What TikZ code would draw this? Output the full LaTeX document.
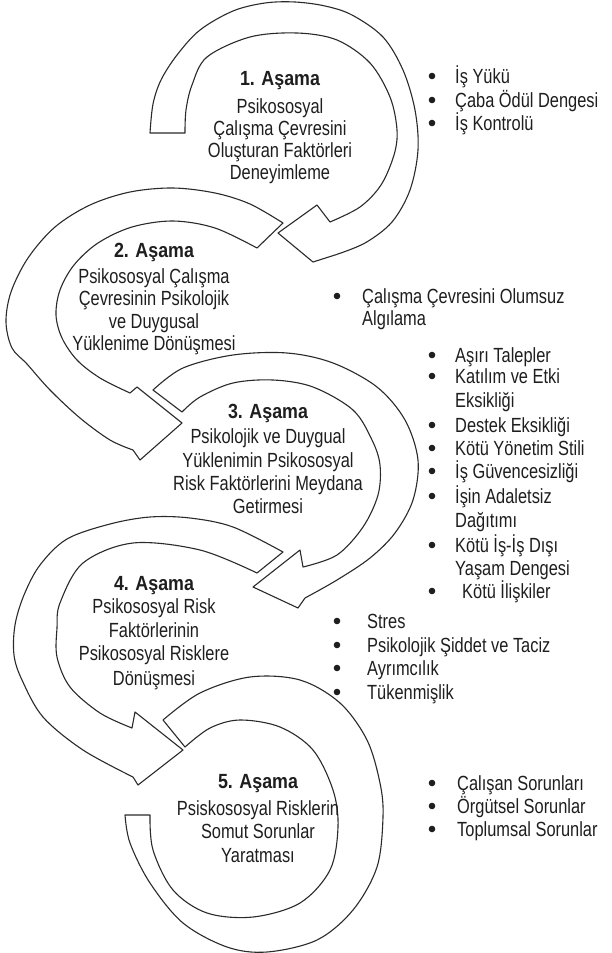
\documentclass[tikz,border=0pt]{standalone}
\usepackage{fontspec}
\setmainfont{Liberation Sans}[FakeStretch=0.80, BoldFeatures={FakeStretch=0.87}]
\definecolor{ink}{HTML}{1E1E1E}
\definecolor{edge}{HTML}{2A2A2A}
\tikzset{
  ring/.style={draw=edge, line width=1.1pt, fill=white, line join=round},
  sm/.style={smooth, tension=0.55},
  txt/.style={inner sep=0pt, anchor=base, text=ink, font=\fontsize{20.5}{22}\selectfont},
  hd/.style={txt, font=\fontsize{20.5}{22}\selectfont\bfseries},
  itm/.style={inner sep=0pt, anchor=base west, text=ink, font=\fontsize{20.5}{22}\selectfont},
  dot/.style={circle, fill=ink, inner sep=0pt, minimum size=6.6pt}
}
\begin{document}
\begin{tikzpicture}[x=1pt, y=-1pt]
\useasboundingbox (0,0) rectangle (612,953);

% ---- Ring 1
\draw[ring] plot[sm] coordinates {(150,133) (153,104) (161,80) (177,55) (200,30) (233,11) (265,3) (295,2) (325,6) (352,15) (383,37) (403,70) (415,110) (418,150) (410,190) (392,222) (365,243) (335,255)}
 -- (313,262) -- (278,233) -- (317,205)
 -- plot[sm] coordinates {(330,222) (360,207) (381,185) (394,155) (397,130) (390,97) (370,63) (337,40) (297,33) (250,37) (207,57) (192,85) (186,110) (185,133)} -- cycle;

% ---- Ring 2
\draw[ring] plot[sm] coordinates {(283,223) (250,204) (215,193) (173,188) (130,192) (90,205) (55,227) (28,258) (11,292) (6,322) (12,348) (27,364) (50,390) (80,418) (110,440) (133,450)}
 -- (140,460) -- (182,423) -- (137,387)
 -- plot[sm] coordinates {(130,393) (100,378) (77,360) (62,338) (56,315) (60,290) (74,265) (98,243) (132,227) (173,221) (215,228) (257,248)} -- cycle;

% ---- Ring 3
\draw[ring] plot[sm] coordinates {(153,390) (183,368) (233,355) (287,353) (333,363) (377,387) (405,420) (418,460) (413,500) (395,533) (370,558) (337,580) (305,598)}
 -- (298,608) -- (253,587) -- (300,550)
 -- plot[sm] coordinates {(303,567) (337,555) (363,527) (378,495) (380,465) (372,440) (353,410) (313,387) (273,380) (233,383) (200,397) (182,412)} -- cycle;

% ---- Ring 4
\draw[ring] plot[sm] coordinates {(283,552) (233,527) (190,518) (150,517) (110,524) (67,539) (40,565) (24,595) (15,625) (14,655) (22,680) (43,717) (83,750) (133,777)}
 -- (138,785) -- (183,750) -- (135,712)
 -- plot[sm] coordinates {(132,728) (100,713) (70,687) (57,657) (57,628) (60,603) (83,563) (133,543) (200,550) (257,573)} -- cycle;

% ---- Ring 5
\draw[ring] plot[sm] coordinates {(163,720) (200,693) (250,677) (300,680) (340,703) (367,740) (380,783) (383,817) (377,867) (353,910) (317,940) (267,952) (227,947) (183,923) (150,883) (130,843) (125,815)}
 -- plot[sm] coordinates {(150,815) (153,850) (173,890) (207,913) (253,917) (300,903) (330,870) (338,827) (333,790) (313,750) (280,727) (240,720) (210,728) (185,747)} -- cycle;

% ---- Stage texts
\node[hd]  (s1h) at (280,85)  {1. Aşama};
\node[txt] (s1a) at (280,113) {Psikososyal};
\node[txt] (s1b) at (280,135) {Çalışma Çevresini};
\node[txt] (s1c) at (280,157) {Oluşturan Faktörleri};
\node[txt] (s1d) at (280,179) {Deneyimleme};

\node[hd]  (s2h) at (154,257) {2. Aşama};
\node[txt] (s2a) at (154,283) {Psikososyal Çalışma};
\node[txt] (s2b) at (154,305) {Çevresinin Psikolojik};
\node[txt] (s2c) at (154,328) {ve Duygusal};
\node[txt] (s2d) at (154,350) {Yüklenime Dönüşmesi};

\node[hd]  (s3h) at (268,418) {3. Aşama};
\node[txt] (s3a) at (268,443) {Psikolojik ve Duygual};
\node[txt] (s3b) at (268,467) {Yüklenimin Psikososyal};
\node[txt] (s3c) at (268,490) {Risk Faktörlerini Meydana};
\node[txt] (s3d) at (268,513) {Getirmesi};

\node[hd]  (s4h) at (154,590) {4. Aşama};
\node[txt] (s4a) at (154,613) {Psikososyal Risk};
\node[txt] (s4b) at (154,637) {Faktörlerinin};
\node[txt] (s4c) at (154,660) {Psikososyal Risklere};
\node[txt] (s4d) at (154,685) {Dönüşmesi};

\node[hd]  (s5h) at (258,788) {5. Aşama};
\node[txt] (s5a) at (258,815) {Psiskososyal Risklerin};
\node[txt] (s5b) at (258,838) {Somut Sorunlar};
\node[txt] (s5c) at (258,862) {Yaratması};

% ---- Bullet lists
\node[dot] (d1a) at (432,76) {};  \node[itm] (l1a) at (455,83)  {İş Yükü};
\node[dot] (d1b) at (432,100) {}; \node[itm] (l1b) at (455,107) {Çaba Ödül Dengesi};
\node[dot] (d1c) at (432,123) {}; \node[itm] (l1c) at (455,130) {İş Kontrolü};

\node[dot] (d2a) at (337,296) {}; \node[itm] (l2a) at (362,303) {Çalışma Çevresini Olumsuz};
\node[itm] (l2b) at (362,325) {Algılama};

\node[dot] (d3a) at (432,355) {}; \node[itm] (l3a) at (455,362) {Aşırı Talepler};
\node[dot] (d3b) at (432,376) {}; \node[itm] (l3b) at (455,383) {Katılım ve Etki};
\node[itm] (l3c) at (455,407) {Eksikliği};
\node[dot] (d3d) at (432,425) {}; \node[itm] (l3d) at (455,432) {Destek Eksikliği};
\node[dot] (d3e) at (432,448) {}; \node[itm] (l3e) at (455,455) {Kötü Yönetim Stili};
\node[dot] (d3f) at (432,471) {}; \node[itm] (l3f) at (455,478) {İş Güvencesizliği};
\node[dot] (d3g) at (432,496) {}; \node[itm] (l3g) at (455,503) {İşin Adaletsiz};
\node[itm] (l3h) at (455,527) {Dağıtımı};
\node[dot] (d3i) at (432,545) {}; \node[itm] (l3i) at (455,552) {Kötü İş-İş Dışı};
\node[itm] (l3j) at (455,575) {Yaşam Dengesi};
\node[dot] (d3k) at (432,591) {}; \node[itm] (l3k) at (462,598) {Kötü İlişkiler};

\node[dot] (d4a) at (337,621) {}; \node[itm] (l4a) at (367,628) {Stres};
\node[dot] (d4b) at (337,645) {}; \node[itm] (l4b) at (367,652) {Psikolojik Şiddet ve Taciz};
\node[dot] (d4c) at (337,668) {}; \node[itm] (l4c) at (367,675) {Ayrımcılık};
\node[dot] (d4d) at (337,692) {}; \node[itm] (l4d) at (367,699) {Tükenmişlik};

\node[dot] (d5a) at (432,783) {}; \node[itm] (l5a) at (457,790) {Çalışan Sorunları};
\node[dot] (d5b) at (432,806) {}; \node[itm] (l5b) at (457,813) {Örgütsel Sorunlar};
\node[dot] (d5c) at (432,829) {}; \node[itm] (l5c) at (457,836) {Toplumsal Sorunlar};
\end{tikzpicture}
\end{document}
